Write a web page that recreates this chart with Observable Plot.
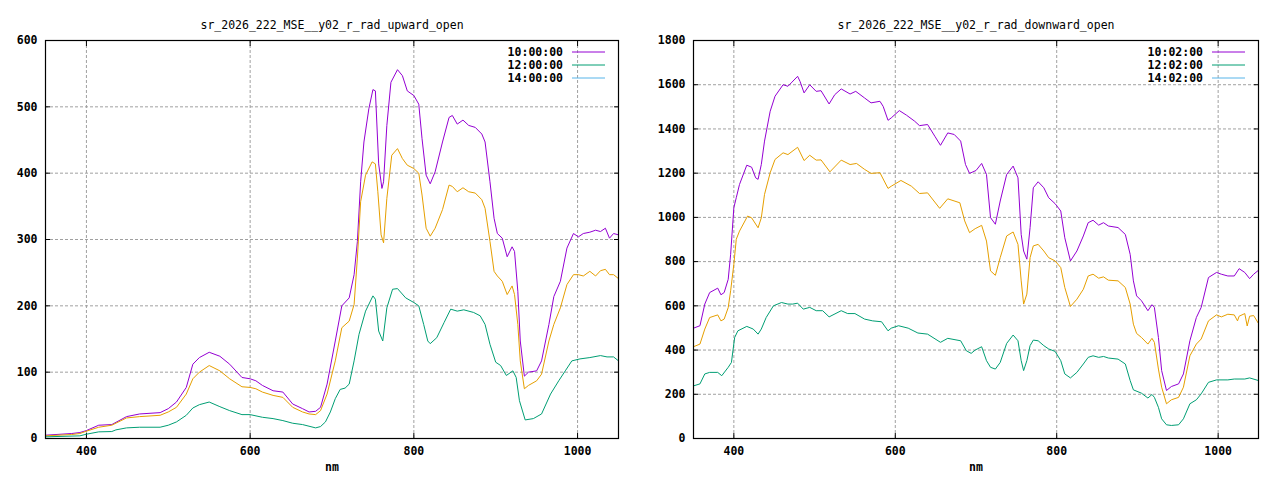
<!DOCTYPE html>
<html><head><meta charset="utf-8">
<script src="https://cdn.jsdelivr.net/npm/d3@7"></script>
<script src="https://cdn.jsdelivr.net/npm/@observablehq/plot@0.6"></script>
<style>
body{margin:0;background:#fff}
#wrap{display:flex;width:1280px;height:480px;background:#fff}
</style>
</head><body><div id="wrap"></div>
<script>
// ---- Data (wavelength nm, radiance) ----
const titles = ["sr_2026_222_MSE__y02_r_rad_upward_open", "sr_2026_222_MSE__y02_r_rad_downward_open"];
const upLabels = ["10:00:00", "12:00:00", "14:00:00"];
const downLabels = ["10:02:00", "12:02:00", "14:02:00"];
const xTicks = [400, 600, 800, 1000];
const upYTicks = [0, 100, 200, 300, 400, 500, 600];
const downYTicks = [0, 200, 400, 600, 800, 1000, 1200, 1400, 1600, 1800];
const xLabel = "nm";

const up10 = [[350,5],[382,7.5],[392,9],[400,12],[415,20],[431,21],[449,33],[465,37],[490,39],[500,45],[510,55],[522,77],[530,112],[538,122],[550,130],[563,124],[575,112],[590,92],[600,90],[607,87],[615,80],[628,72],[640,70],[652,52],[664,45],[672,40],[680,41],[686,47],[694,82],[704,147],[712,200],[721,212],[727,247],[731,297],[735,387],[739,447],[745,497],[750,526],[753,524],[757,414],[761,377],[763,387],[767,472],[772,537],[780,556],[786,547],[792,524],[800,517],[806,504],[810,452],[815,397],[820,384],[826,402],[835,447],[843,484],[847,487],[853,474],[860,480],[867,472],[875,469],[883,459],[887,447],[893,387],[898,332],[902,309],[908,302],[914,274],[920,289],[923,282],[927,222],[930,147],[935,94],[940,100],[950,102],[956,117],[965,172],[971,214],[979,237],[987,287],[995,309],[1001,304],[1007,309],[1015,311],[1022,314],[1028,312],[1034,317],[1039,302],[1044,309],[1050,307]];
const up12 = [[350,4],[382,6],[392,7.5],[400,11],[415,17],[431,20],[449,31],[465,33],[490,35],[500,40],[510,47],[522,67],[530,90],[538,100],[550,110],[563,102],[575,90],[590,78],[600,77],[607,75],[615,70],[628,65],[640,62],[652,47],[664,40],[672,37],[680,36],[686,42],[694,67],[704,117],[712,167],[721,177],[727,202],[731,272],[735,357],[741,397],[749,417],[753,414],[756,372],[760,307],[763,295],[767,362],[773,427],[780,437],[786,422],[792,412],[800,407],[806,400],[810,367],[815,317],[820,305],[826,317],[835,345],[843,382],[847,380],[853,372],[860,378],[867,372],[875,370],[883,360],[887,347],[893,297],[898,252],[902,245],[908,237],[914,217],[920,230],[923,217],[927,172],[930,117],[935,75],[940,80],[950,87],[956,97],[965,147],[971,172],[979,197],[987,232],[995,247],[1001,247],[1007,245],[1015,252],[1022,245],[1028,253],[1034,255],[1039,247],[1044,247],[1050,241]];
const up14 = [[350,2.5],[392,4],[400,6.5],[415,10],[431,10.5],[436,13],[449,16],[465,17],[490,17],[500,20],[510,25],[522,35],[530,46],[538,51],[550,55],[563,48],[575,42],[590,36],[600,36],[615,32],[628,30],[640,27],[652,23],[664,21],[680,16],[686,18],[692,25],[698,40],[704,60],[710,74],[716,76],[721,82],[727,117],[733,157],[741,192],[750,215],[753,210],[757,162],[762,147],[767,197],[774,225],[780,226],[790,212],[800,205],[806,200],[812,172],[817,147],[820,143],[828,152],[837,175],[845,195],[853,192],[861,194],[873,190],[881,185],[887,172],[893,142],[900,115],[906,110],[913,95],[921,102],[925,92],[929,57],[936,28],[946,30],[956,37],[967,67],[977,87],[985,102],[993,117],[1003,120],[1015,122],[1028,125],[1036,123],[1044,123],[1050,117]];

const down10 = [[350,499],[358,510],[364,608],[370,660],[380,680],[384,650],[388,660],[393,720],[396,833],[400,1044],[403,1089],[407,1149],[416,1236],[422,1227],[427,1179],[430,1172],[434,1239],[438,1345],[445,1480],[451,1548],[461,1600],[467,1593],[471,1608],[479,1638],[482,1615],[487,1563],[494,1600],[502,1570],[508,1573],[518,1513],[525,1555],[533,1581],[544,1558],[551,1570],[562,1540],[570,1518],[581,1525],[585,1502],[591,1439],[595,1450],[605,1483],[614,1462],[624,1435],[630,1415],[640,1420],[649,1367],[656,1326],[665,1382],[673,1375],[681,1345],[687,1239],[692,1199],[700,1212],[707,1244],[713,1194],[718,999],[724,969],[730,1074],[738,1194],[746,1232],[752,1179],[756,923],[759,848],[763,811],[767,954],[771,1134],[777,1161],[784,1134],[790,1089],[798,1062],[805,1029],[810,908],[817,803],[825,848],[833,916],[839,976],[845,987],[852,965],[858,976],[864,961],[876,954],[885,923],[891,833],[895,713],[899,645],[905,623],[913,578],[918,605],[921,593],[926,457],[930,307],[936,217],[942,235],[951,247],[957,292],[965,442],[973,547],[979,593],[988,728],[998,751],[1004,743],[1012,735],[1020,735],[1026,768],[1033,751],[1039,723],[1044,743],[1050,761]];
const down12 = [[350,415],[358,427],[364,495],[370,547],[380,559],[384,532],[388,540],[393,592],[396,668],[400,788],[403,901],[407,938],[417,1006],[422,998],[430,953],[434,998],[438,1104],[445,1202],[451,1262],[461,1292],[467,1284],[479,1317],[487,1257],[494,1281],[502,1259],[508,1260],[519,1206],[533,1259],[544,1239],[552,1244],[562,1217],[570,1199],[581,1202],[591,1131],[595,1141],[607,1167],[620,1141],[630,1108],[640,1111],[655,1041],[665,1084],[680,1066],[686,984],[692,931],[699,949],[707,964],[713,893],[718,758],[724,738],[730,818],[738,916],[746,934],[752,878],[756,713],[759,608],[763,653],[767,818],[771,871],[777,878],[784,848],[790,818],[798,803],[805,773],[810,683],[817,597],[825,630],[833,675],[839,735],[845,743],[852,725],[858,731],[864,716],[876,713],[885,683],[891,608],[895,517],[899,475],[905,457],[913,427],[918,453],[921,435],[926,314],[930,232],[936,157],[942,175],[951,186],[957,232],[965,374],[973,427],[979,450],[988,532],[998,559],[1004,550],[1012,562],[1020,559],[1024,532],[1026,553],[1033,565],[1036,509],[1039,553],[1044,556],[1050,520]];
const down14 = [[350,238],[358,247],[364,292],[370,299],[380,299],[385,284],[393,322],[397,344],[401,457],[405,487],[416,507],[424,495],[430,472],[434,495],[440,547],[449,600],[459,615],[467,608],[473,608],[479,612],[486,585],[494,593],[502,578],[510,578],[518,550],[533,578],[541,565],[550,565],[562,540],[572,532],[583,528],[591,487],[595,499],[604,510],[616,499],[628,477],[640,472],[656,435],[665,453],[681,442],[688,397],[694,385],[699,400],[707,415],[713,352],[718,322],[724,314],[730,344],[738,430],[746,468],[752,442],[756,352],[759,307],[763,352],[767,420],[771,445],[777,442],[784,420],[790,405],[798,394],[805,352],[810,292],[817,274],[825,299],[833,337],[839,367],[845,374],[852,367],[858,371],[864,364],[876,359],[885,337],[891,262],[895,220],[905,205],[913,183],[918,199],[921,186],[926,141],[930,89],[936,62],[942,59],[951,62],[957,89],[965,157],[973,175],[979,202],[988,254],[998,265],[1012,265],[1020,269],[1033,269],[1039,274],[1050,262]];

const lineColors = ["#9400d3", "#e69f00", "#009e73"];
const legendColors = ["#9400d3", "#009e73", "#56b4e9"];

function legendMark(labels, colors) {
  return (index, scales, values, dimensions) => {
    const right = dimensions.width - dimensions.marginRight;
    const top = dimensions.marginTop;
    const g = d3.create("svg:g");
    labels.forEach((l, i) => {
      const y = top + 11.5 + 13 * i;
      g.append("text")
        .attr("x", right - 55).attr("y", y).attr("dy", "0.35em")
        .attr("text-anchor", "end").attr("font-weight", "bold")
        .attr("fill", "black").text(l);
      g.append("line")
        .attr("x1", right - 46).attr("x2", right - 13)
        .attr("y1", y + 0.5).attr("y2", y + 0.5)
        .attr("stroke", colors[i]).attr("stroke-width", 1);
    });
    return g.node();
  };
}

function panel(title, series, labels, yTicks, marginLeft) {
  const grid = {stroke: "#a0a0a0", strokeOpacity: 1, strokeDasharray: "3,2"};
  const fmt = d => String(d);
  return Plot.plot({
    width: 640,
    height: 480,
    marginLeft,
    marginRight: 22,
    marginTop: 40,
    marginBottom: 42,
    style: {fontFamily: "'DejaVu Sans Mono', monospace", fontSize: "11.5px", background: "white", color: "black"},
    x: {domain: [350, 1050], label: null},
    y: {domain: [0, yTicks[yTicks.length - 1]], label: null},
    marks: [
      Plot.gridX(xTicks, grid),
      Plot.gridY(yTicks, grid),
      Plot.axisX(xTicks, {anchor: "bottom", tickSize: 0, tickPadding: 8, fontWeight: "bold", tickFormat: fmt, label: null}),
      Plot.axisX(xTicks, {anchor: "bottom", tickSize: -5, tickFormat: () => "", label: null}),
      Plot.axisX(xTicks, {anchor: "top", tickSize: -5, tickFormat: () => "", label: null}),
      Plot.axisY(yTicks, {anchor: "left", tickSize: 0, tickPadding: 8, fontWeight: "bold", tickFormat: fmt, label: null}),
      Plot.axisY(yTicks, {anchor: "left", tickSize: -5, tickFormat: () => "", label: null}),
      Plot.axisY(yTicks, {anchor: "right", tickSize: -5, tickFormat: () => "", label: null}),
      ...series.map((s, i) => Plot.line(s, {x: d => d[0], y: d => d[1], stroke: lineColors[i], strokeWidth: 1, clip: true})),
      Plot.frame({stroke: "black", strokeWidth: 1.2}),
      Plot.text([title], {frameAnchor: "top", dy: -20, text: d => d, fill: "black"}),
      Plot.text([xLabel], {frameAnchor: "bottom", dy: 32, text: d => d, fill: "black", fontWeight: "bold"}),
      legendMark(labels, legendColors)
    ]
  });
}

const wrap = document.getElementById("wrap");
wrap.append(panel(titles[0], [up10, up12, up14], upLabels, upYTicks, 45));
wrap.append(panel(titles[1], [down10, down12, down14], downLabels, downYTicks, 53));
</script></body></html>
